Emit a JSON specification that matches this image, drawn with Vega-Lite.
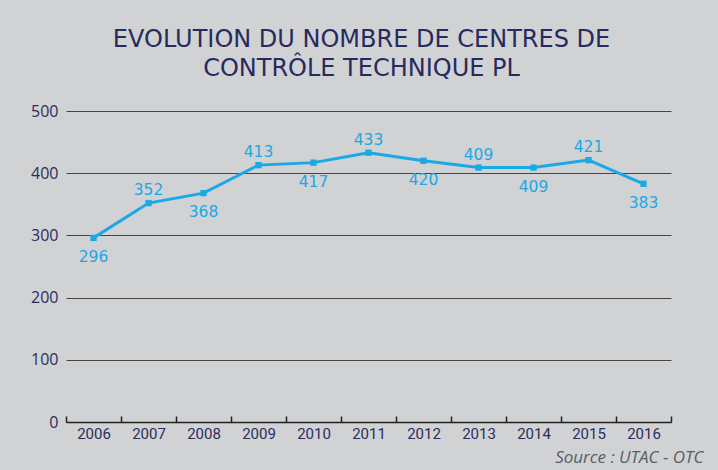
{
  "$schema": "https://vega.github.io/schema/vega-lite/v6.json",
  "width": 605,
  "height": 311,
  "autosize": "none",
  "padding": {"left": 66, "top": 111, "right": 47, "bottom": 48},
  "background": "#d1d2d4",
  "title": {
    "text": ["EVOLUTION DU NOMBRE DE CENTRES DE", "CONTRÔLE TECHNIQUE PL"],
    "font": "DejaVu Sans",
    "fontSize": 24,
    "fontWeight": "normal",
    "color": "#262a5e",
    "lineHeight": 29,
    "anchor": "middle",
    "frame": "group",
    "offset": 22,
    "dx": -7
  },
  "config": {"view": {"stroke": null}},
  "data": {
    "values": [
      {"year": "2006", "value": 296},
      {"year": "2007", "value": 352},
      {"year": "2008", "value": 368},
      {"year": "2009", "value": 413},
      {"year": "2010", "value": 417},
      {"year": "2011", "value": 433},
      {"year": "2012", "value": 420},
      {"year": "2013", "value": 409},
      {"year": "2014", "value": 409},
      {"year": "2015", "value": 421},
      {"year": "2016", "value": 383}
    ]
  },
  "encoding": {
    "x": {
      "field": "year",
      "type": "ordinal",
      "bandPosition": 0.5,
      "scale": {"type": "band", "paddingInner": 0, "paddingOuter": 0},
      "axis": {
        "title": "Source : UTAC - OTC",
        "titleFont": "Open Sans",
        "titleFontStyle": "italic",
        "titleFontWeight": "normal",
        "titleFontSize": 17,
        "titleColor": "#5a5c66",
        "titleAlign": "right",
        "titleAnchor": "end",
        "titleBaseline": "alphabetic",
        "titleX": 637,
        "titleY": 40,
        "labelAngle": 0,
        "labelFont": "Roboto",
        "labelFontSize": 15,
        "labelColor": "#2b2d5e",
        "labelBaseline": "top",
        "labelPadding": 10,
        "domainColor": "#222222",
        "domainWidth": 1.5,
        "tickColor": "#222222",
        "tickWidth": 1.5,
        "tickSize": -6,
        "tickBand": "extent",
        "grid": false
      }
    },
    "y": {
      "field": "value",
      "type": "quantitative",
      "scale": {"domain": [0, 500], "nice": false},
      "axis": {
        "title": null,
        "values": [0, 100, 200, 300, 400, 500],
        "domain": false,
        "ticks": false,
        "grid": true,
        "gridColor": "#444444",
        "gridWidth": 1.2,
        "labelFont": "Open Sans",
        "labelFontSize": 16,
        "labelColor": "#2b2d5e",
        "labelPadding": 8
      }
    }
  },
  "layer": [
    {
      "mark": {
        "type": "line",
        "color": "#1ba8e6",
        "strokeWidth": 3,
        "point": {"shape": "square", "size": 40, "filled": true, "color": "#1ba8e6", "opacity": 1}
      }
    },
    {
      "transform": [{"filter": {"field": "year", "oneOf": ["2007", "2009", "2011", "2013", "2015"]}}],
      "mark": {"type": "text", "font": "DejaVu Sans", "fontSize": 15.5, "color": "#1ba8e6", "baseline": "middle", "dy": -13},
      "encoding": {"text": {"field": "value", "type": "quantitative"}}
    },
    {
      "transform": [{"filter": {"field": "year", "oneOf": ["2006", "2008", "2010", "2012", "2014", "2016"]}}],
      "mark": {"type": "text", "font": "DejaVu Sans", "fontSize": 15.5, "color": "#1ba8e6", "baseline": "middle", "dy": 19},
      "encoding": {"text": {"field": "value", "type": "quantitative"}}
    }
  ]
}
